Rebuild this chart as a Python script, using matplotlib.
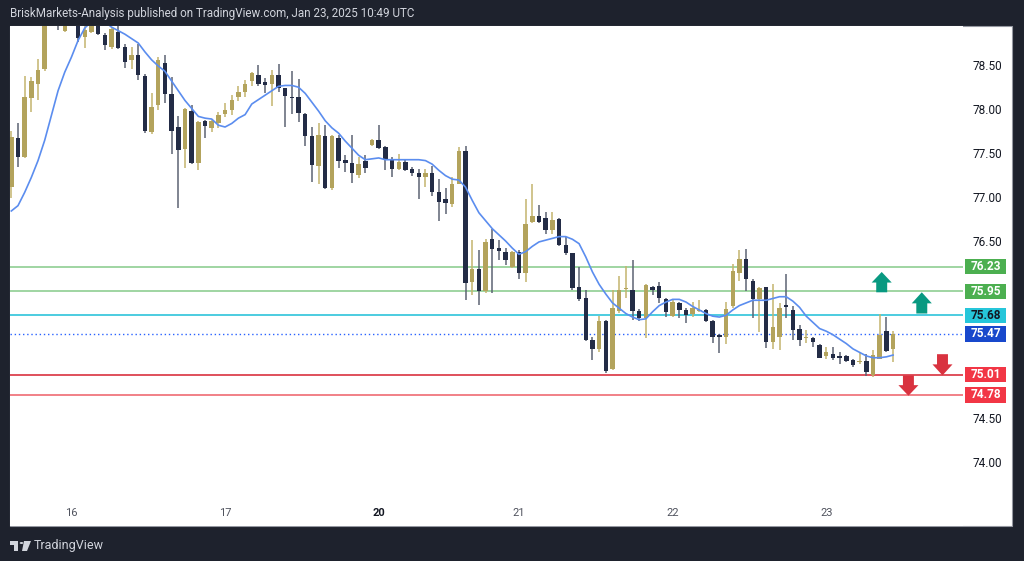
import matplotlib
matplotlib.use("Agg")
import matplotlib.pyplot as plt
import matplotlib.transforms as mtransforms
from matplotlib.patches import Rectangle, Polygon, Circle

# ---- data (hourly candles, Jan 15 - Jan 23) ----
opens = [77.13, 77.69, 77.47, 78.14, 78.30, 78.47, 79.05, 79.10, 78.90, 79.05,
         79.00, 78.83, 78.89, 79.00, 78.85, 78.72, 78.89, 78.72, 78.57, 78.62,
         78.39, 77.75, 78.06, 78.53, 78.18, 77.81, 77.56, 77.99, 77.40, 77.88,
         77.80, 77.86, 77.96, 78.00, 78.15, 78.21, 78.33, 78.40, 78.32, 78.30,
         78.40, 78.25, 78.15, 78.15, 77.96, 77.71, 77.37, 77.71, 77.12, 77.69,
         77.44, 77.40, 77.27, 77.42, 77.61, 77.66, 77.58, 77.44, 77.34, 77.41,
         77.33, 77.29, 77.24, 77.29, 77.08, 76.99, 76.94, 77.17, 77.54, 76.06,
         76.20, 75.96, 76.54, 76.44, 76.40, 76.23, 76.40, 76.16, 76.74, 76.80,
         76.78, 76.64, 76.77, 76.48, 76.39, 76.00, 75.88, 75.40, 75.30, 75.61,
         75.07, 75.73, 75.98, 75.97, 75.73, 75.65, 76.00, 76.01, 75.86, 75.67,
         75.82, 75.74, 75.69, 75.73, 75.74, 75.62, 75.46, 75.43, 75.78, 76.16,
         76.32, 76.07, 75.86, 76.00, 75.38, 75.44, 75.80, 75.74, 75.52, 75.42,
         75.42, 75.34, 75.22, 75.24, 75.22, 75.22, 75.17, 75.15, 75.16, 75.00,
         75.19, 75.50, 75.30]
highs = [77.77, 77.85, 78.39, 78.37, 78.58, 79.10, 79.25, 79.20, 79.15, 79.20,
         79.10, 78.97, 79.00, 79.05, 78.87, 78.93, 78.97, 78.75, 78.71, 78.75,
         78.41, 78.20, 78.60, 78.62, 78.38, 77.94, 78.02, 78.06, 77.88, 77.89,
         77.89, 77.98, 78.08, 78.17, 78.27, 78.34, 78.43, 78.51, 78.36, 78.45,
         78.52, 78.25, 78.44, 78.35, 77.97, 77.81, 77.85, 77.83, 77.72, 77.72,
         77.49, 77.72, 77.47, 77.49, 77.67, 77.83, 77.60, 77.47, 77.51, 77.44,
         77.36, 77.34, 77.34, 77.37, 77.22, 77.12, 77.24, 77.58, 77.59, 76.53,
         76.42, 76.54, 76.66, 76.53, 76.44, 76.41, 76.42, 76.99, 77.17, 76.93,
         76.85, 76.85, 76.78, 76.56, 76.39, 76.23, 75.97, 75.44, 75.67, 75.63,
         75.97, 76.12, 76.24, 76.30, 75.75, 76.03, 76.01, 76.06, 75.87, 75.85,
         75.83, 75.76, 75.83, 75.85, 75.75, 75.63, 75.47, 75.83, 76.26, 76.42,
         76.43, 76.09, 76.00, 76.00, 76.03, 75.82, 76.15, 75.78, 75.57, 75.51,
         75.44, 75.36, 75.32, 75.32, 75.26, 75.23, 75.18, 75.25, 75.24, 75.29,
         75.69, 75.66, 75.50]
lows = [77.01, 77.36, 77.46, 77.98, 78.12, 78.44, 78.98, 78.91, 78.89, 78.98,
        78.77, 78.70, 78.87, 78.85, 78.68, 78.69, 78.69, 78.48, 78.47, 78.34,
        77.74, 77.73, 78.00, 78.08, 77.50, 76.89, 77.35, 77.39, 77.32, 77.69,
        77.75, 77.80, 77.92, 77.95, 78.10, 78.15, 78.27, 78.27, 78.19, 78.05,
        78.21, 77.81, 77.96, 77.87, 77.59, 77.19, 77.17, 77.11, 77.10, 77.35,
        77.30, 77.18, 77.23, 77.29, 77.59, 77.56, 77.32, 77.25, 77.32, 77.31,
        77.26, 77.00, 77.13, 77.03, 76.75, 76.83, 76.90, 77.16, 75.85, 75.91,
        75.80, 75.93, 75.93, 76.31, 76.25, 76.21, 76.09, 76.06, 76.72, 76.72,
        76.60, 76.60, 76.46, 76.36, 75.97, 75.84, 75.39, 75.17, 75.27, 75.03,
        75.06, 75.71, 75.88, 75.63, 75.61, 75.42, 75.91, 75.82, 75.66, 75.66,
        75.65, 75.59, 75.66, 75.72, 75.60, 75.37, 75.25, 75.36, 75.76, 76.07,
        75.95, 75.65, 75.49, 75.31, 75.30, 75.29, 75.65, 75.40, 75.33, 75.37,
        75.32, 75.20, 75.18, 75.17, 75.13, 75.15, 75.10, 75.13, 74.99, 74.98,
        75.18, 75.27, 75.15]
closes = [77.70, 77.47, 78.15, 78.33, 78.45, 79.05, 79.15, 79.00, 79.05, 79.10,
          78.82, 78.91, 78.96, 78.86, 78.74, 78.92, 78.70, 78.55, 78.63, 78.40,
          77.76, 78.04, 78.57, 78.18, 77.77, 77.55, 78.01, 77.40, 77.87, 77.82,
          77.88, 77.95, 78.00, 78.12, 78.21, 78.30, 78.42, 78.30, 78.29, 78.40,
          78.25, 78.16, 78.14, 77.97, 77.71, 77.38, 77.72, 77.12, 77.71, 77.42,
          77.40, 77.29, 77.39, 77.35, 77.66, 77.57, 77.44, 77.34, 77.41, 77.32,
          77.29, 77.25, 77.29, 77.08, 76.96, 76.95, 77.17, 77.54, 76.05, 76.20,
          75.96, 76.51, 76.43, 76.41, 76.31, 76.40, 76.16, 76.71, 76.80, 76.74,
          76.64, 76.76, 76.48, 76.38, 75.99, 75.86, 75.40, 75.30, 75.62, 75.05,
          75.76, 75.97, 75.99, 75.73, 75.65, 76.02, 75.97, 75.87, 75.72, 75.83,
          75.74, 75.68, 75.76, 75.74, 75.61, 75.43, 75.44, 75.75, 76.18, 76.32,
          76.09, 75.86, 75.99, 75.38, 75.55, 75.76, 75.77, 75.51, 75.40, 75.43,
          75.38, 75.20, 75.27, 75.20, 75.20, 75.16, 75.12, 75.16, 75.04, 75.23,
          75.46, 75.28, 75.47]
# moving average line as drawn on the chart
ma_line = [76.86, 76.92, 77.07, 77.24, 77.43, 77.66, 77.94, 78.22, 78.43, 78.60,
           78.79, 78.93, 79.00, 79.02, 79.00, 78.94, 78.90, 78.86, 78.81, 78.76,
           78.66, 78.57, 78.50, 78.44, 78.33, 78.22, 78.11, 78.02, 77.93, 77.91,
           77.90, 77.83, 77.81, 77.85, 77.91, 77.95, 78.07, 78.12, 78.17, 78.22,
           78.27, 78.28, 78.28, 78.26, 78.19, 78.09, 77.99, 77.88, 77.80, 77.74,
           77.65, 77.57, 77.49, 77.44, 77.45, 77.46, 77.44, 77.44, 77.44, 77.44,
           77.44, 77.44, 77.43, 77.39, 77.32, 77.26, 77.22, 77.21, 77.13, 76.98,
           76.84, 76.75, 76.66, 76.59, 76.52, 76.44, 76.37, 76.40, 76.46, 76.51,
           76.53, 76.55, 76.57, 76.57, 76.54, 76.49, 76.34, 76.17, 76.03, 75.92,
           75.82, 75.76, 75.70, 75.66, 75.63, 75.64, 75.72, 75.79, 75.83, 75.86,
           75.86, 75.83, 75.78, 75.74, 75.70, 75.67, 75.66, 75.68, 75.74, 75.79,
           75.82, 75.85, 75.85, 75.85, 75.87, 75.89, 75.89, 75.84, 75.77, 75.67,
           75.60, 75.53, 75.50, 75.46, 75.41, 75.36, 75.30, 75.26, 75.22, 75.20,
           75.20, 75.21, 75.23]

day_labels = ["16", "17", "20", "21", "22", "23"]
day_bars = [9, 32, 55, 76, 99, 122]

# scale labels that are not hidden behind the level tags
price_ticks = [78.50, 78.00, 77.50, 77.00, 76.50, 74.50, 74.00]

levels = [76.23, 75.95, 75.68, 75.01, 74.78]
level_colors = ["#8fce92", "#8fce92", "#2ec4da", "#d9323f", "#ef6b73"]
label_colors = ["#4caf50", "#4caf50", "#26c6da", "#f23645", "#f23645"]
label_text_colors = ["white", "white", "#131722", "white", "white"]
last_price = 75.47

# arrows: (bar position, tip price, tail price)
up_arrows = [(130.3, 76.17, 75.94), (136.3, 75.94, 75.70)]
down_arrows = [(139.4, 75.00, 75.24), (134.3, 74.77, 75.00)]

UP = "#b3a35c"
DOWN = "#232c46"
UP_WICK = "#c4b46e"
DOWN_WICK = "#5d6373"
BG = "#1e222d"

fig = plt.figure(figsize=(10.24, 5.61), dpi=100, facecolor=BG)
W, H = 1024, 561

# white chart panel (plot + price scale)
panel = Rectangle((10 / W, 35 / H), 1002 / W, 500 / H, transform=fig.transFigure,
                  facecolor="white", edgecolor="#9598a1", lw=0.8, zorder=-10)
fig.add_artist(panel)

ax = fig.add_axes([10 / W, 35 / H, 953 / W, 500 / H])
ax.set_zorder(1)
ax.set_facecolor("white")
for s in ax.spines.values():
    s.set_visible(False)
ax.set_xticks([])
ax.set_yticks([])
ax.set_ylim(73.2964, 78.9525)
ax.set_xlim(-0.195, 142.47)

n = len(closes)
xs = list(range(n))

# wicks
for i in xs:
    col = UP_WICK if closes[i] >= opens[i] else DOWN_WICK
    ax.vlines(i, lows[i], highs[i], color=col, lw=1.1, zorder=3)

# bodies
bottoms = [min(o, c) for o, c in zip(opens, closes)]
heights = [max(abs(c - o), 0.012) for o, c in zip(opens, closes)]
colors = [UP if c >= o else DOWN for o, c in zip(opens, closes)]
ax.bar(xs, heights, bottom=bottoms, width=0.66, color=colors, zorder=4, linewidth=0)

# moving average
ax.plot(xs, ma_line, color="#5b8def", lw=1.2, zorder=5)

# horizontal levels
for lv, c in zip(levels, level_colors):
    ax.axhline(lv, color=c, lw=1.2, zorder=2)
ax.axhline(last_price, color="#2962ff", lw=1.0, ls=(0, (1, 2)), zorder=2)

# block arrows
def block_arrow(xc, tip, tail, color):
    hw, sw = 1.5, 0.82
    head_len = 0.52 * (tip - tail)
    base = tip - head_len
    pts = [(xc, tip), (xc + hw, base), (xc + sw, base), (xc + sw, tail),
           (xc - sw, tail), (xc - sw, base), (xc - hw, base)]
    ax.add_patch(Polygon(pts, closed=True, facecolor=color, edgecolor="none",
                         zorder=6, clip_on=False))

for xc, tip, tail in up_arrows:
    block_arrow(xc, tip, tail, "#089981")
for xc, tip, tail in down_arrows:
    block_arrow(xc, tip, tail, "#d9323f")

# price scale
blend = mtransforms.blended_transform_factory(fig.transFigure, ax.transData)
for p in price_ticks:
    ax.text(1002 / W, p, f"{p:.2f}", transform=blend, ha="right", va="center",
            fontsize=8.5, color="#131722", family=["Roboto", "DejaVu Sans"],
            clip_on=False, zorder=7)

def price_box(p, face, tc):
    ax.add_patch(Rectangle((965 / W, p - 0.087), 41 / W, 0.174, transform=blend,
                           facecolor=face, edgecolor="none", clip_on=False, zorder=8))
    ax.text(985.5 / W, p, f"{p:.2f}", transform=blend, ha="center", va="center",
            fontsize=8.5, color=tc, fontweight="bold",
            family=["Roboto", "DejaVu Sans"], clip_on=False, zorder=9)

for lv, face, tc in zip(levels, label_colors, label_text_colors):
    price_box(lv, face, tc)
price_box(last_price, "#1848cc", "white")

# time axis labels
tblend = mtransforms.blended_transform_factory(ax.transData, ax.transAxes)
for b, lab in zip(day_bars, day_labels):
    ax.text(b, 13 / 500, lab, transform=tblend, ha="center", va="center",
            fontsize=8, color="#131722" if lab == "20" else "#50535e",
            fontweight="bold" if lab == "20" else "normal",
            family=["Roboto", "DejaVu Sans"])

# header and footer
fig.text(10 / W, 1 - 13 / H,
         "BriskMarkets-Analysis published on TradingView.com, Jan 23, 2025 10:49 UTC",
         ha="left", va="center", fontsize=8.4, color="#d1d4dc",
         family=["Roboto", "DejaVu Sans"])

# small TradingView logo
lc = "#d1d4dc"
for art in [Rectangle((10 / W, 1 - 545 / H), 8 / W, 4 / H),
            Rectangle((14 / W, 1 - 551 / H), 4 / W, 10 / H),
            Circle((21.5 / W, 1 - 543 / H), 1.8 / W),
            Polygon([(24 / W, 1 - 541 / H), (31 / W, 1 - 541 / H),
                     (27 / W, 1 - 551 / H), (22 / W, 1 - 551 / H)], closed=True)]:
    art.set_transform(fig.transFigure)
    art.set_facecolor(lc)
    art.set_edgecolor("none")
    fig.add_artist(art)
fig.text(34 / W, 1 - 546 / H, "TradingView", ha="left", va="center",
         fontsize=9, color=lc, family=["Roboto", "DejaVu Sans"])

fig.savefig("out.png", dpi=100, facecolor=BG)
